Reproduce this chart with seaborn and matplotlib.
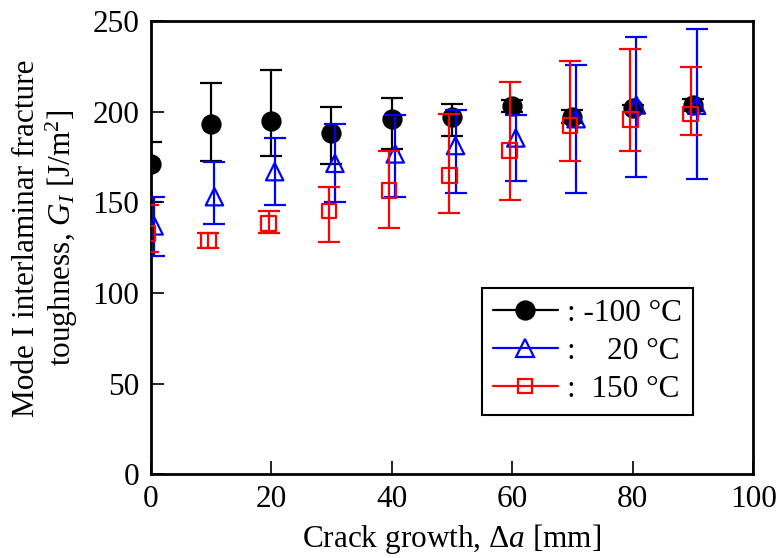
import matplotlib
matplotlib.use("Agg")
import matplotlib.pyplot as plt
from matplotlib.lines import Line2D
import seaborn as sns
import pandas as pd
import numpy as np

# ---- data ----
crack_growth = [0, 10, 20, 30, 40, 50, 60, 70, 80, 90]

g_m100 = [171.2, 193.2, 195.0, 188.1, 195.8, 196.9, 203.1, 197.2, 201.9, 203.7]
lo_m100 = [150.4, 173.0, 175.6, 171.2, 179.4, 186.8, 200.0, 193.6, 200.0, 200.5]
hi_m100 = [183.1, 216.0, 223.0, 202.4, 207.8, 204.4, 206.3, 200.9, 203.7, 206.8]

g_20 = [137.0, 153.1, 166.9, 171.5, 176.7, 181.3, 185.5, 196.1, 203.7, 203.5]
lo_20 = [120.6, 137.9, 148.4, 150.0, 153.1, 155.3, 161.8, 155.3, 163.8, 162.7]
hi_20 = [152.8, 172.4, 185.7, 193.2, 198.3, 200.9, 198.2, 225.8, 241.4, 245.4]

g_150 = [132.9, 128.8, 138.4, 145.2, 156.4, 164.9, 178.5, 192.5, 195.8, 198.7]
lo_150 = [122.8, 125.0, 132.9, 128.0, 136.0, 144.3, 151.1, 172.6, 178.3, 187.1]
hi_150 = [148.5, 132.9, 145.4, 158.3, 178.3, 198.7, 216.2, 228.1, 234.4, 224.5]

temps = ["-100", "20", "150"]
legend_labels = [": -100 °C", ":    20 °C", ":  150 °C"]

x_ticks = [0, 20, 40, 60, 80, 100]
y_ticks = [0, 50, 100, 150, 200, 250]

# ---- style ----
sns.set_theme(style="ticks")
plt.rcParams["font.family"] = ["Liberation Serif", "DejaVu Serif"]
plt.rcParams["mathtext.fontset"] = "custom"
plt.rcParams["mathtext.rm"] = "Liberation Serif"
plt.rcParams["mathtext.it"] = "Liberation Serif:italic"
plt.rcParams["mathtext.bf"] = "Liberation Serif:bold"
plt.rcParams["text.color"] = "black"
plt.rcParams["axes.labelcolor"] = "black"

FS = 22.5

fig = plt.figure(figsize=(7.79, 5.58), dpi=100)
ax = fig.add_axes([0.1932, 0.1500, 0.7738, 0.8124])

series = [
    dict(g=g_m100, lo=lo_m100, hi=hi_m100, color="black", marker="o", fill="black",
         ms=13, dx=0.0, z=3),
    dict(g=g_20, lo=lo_20, hi=hi_20, color="#0000ff", marker="^", fill="none",
         ms=12.5, dx=0.6, z=4),
    dict(g=g_150, lo=lo_150, hi=hi_150, color="#ff0000", marker="s", fill="none",
         ms=10.5, dx=-0.4, z=5),
]

handles = []
for s, t, lab in zip(series, temps, legend_labels):
    x = np.array(crack_growth, dtype=float) + s["dx"]
    g = np.array(s["g"])
    yerr = np.vstack([g - np.array(s["lo"]), np.array(s["hi"]) - g])
    ax.errorbar(x, g, yerr=yerr, fmt="none", ecolor=s["color"], elinewidth=1.6,
                capsize=8, capthick=1.6, zorder=s["z"], clip_on=True)
    df = pd.DataFrame({"x": x, "g": g})
    sns.scatterplot(data=df, x="x", y="g", ax=ax, marker=s["marker"],
                    s=s["ms"] ** 2, facecolor=s["fill"], edgecolor=s["color"],
                    linewidth=1.6, zorder=s["z"] + 0.5, legend=False, clip_on=True)
    handles.append(Line2D([], [], color=s["color"], lw=1.6, marker=s["marker"],
                          markersize=s["ms"], markerfacecolor=s["fill"],
                          markeredgecolor=s["color"], markeredgewidth=1.6, label=lab))

ax.set_xlim(0, 100)
ax.set_ylim(0, 250)
ax.set_xticks(x_ticks)
ax.set_yticks(y_ticks)
ax.tick_params(direction="in", length=9.5, width=1.2, labelsize=FS, pad=8,
               colors="black", top=False, right=False)
for sp in ax.spines.values():
    sp.set_visible(True)
    sp.set_linewidth(2.0)
    sp.set_color("black")

ax.set_xlabel(r"Crack growth, Δ$a$ [mm]", fontsize=FS, color="black")
ax.xaxis.set_label_coords(0.5, -0.105)
ax.set_ylabel("Mode I interlaminar fracture\ntoughness, $G_I$ [J/m$^2$]",
              fontsize=FS, va="center", linespacing=1.12, color="black")
ax.yaxis.set_label_coords(-0.173, 0.521)

leg = ax.legend(handles=handles, loc="upper left",
                bbox_to_anchor=(0.619, 0.484), bbox_transform=fig.transFigure,
                borderaxespad=0, fontsize=FS, frameon=True, fancybox=False,
                handlelength=2.05, handletextpad=0.3, labelspacing=0.28,
                borderpad=0.36)
leg.get_frame().set_edgecolor("black")
leg.get_frame().set_linewidth(1.5)
leg.get_frame().set_alpha(1)
for txt in leg.get_texts():
    txt.set_color("black")

fig.savefig("out.png", dpi=100)
